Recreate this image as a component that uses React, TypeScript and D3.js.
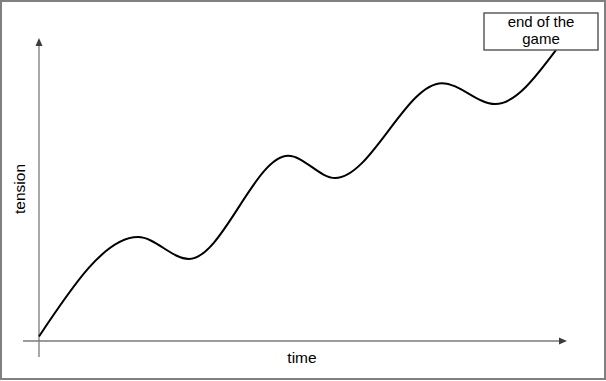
import React from "react";
import * as d3 from "d3";

const timeValues = [0, 18.75, 28.4, 47.2, 56.1, 76.3, 86.4, 97.9];
const tensionValues = [1.5, 34.3, 27.1, 61.1, 53.8, 85.1, 78.2, 96.0];
const xLabel = "time";
const yLabel = "tension";
const noteLines = ["end of the", "game"];

const W = 606;
const H = 381;

export default function App() {
  const x = d3.scaleLinear().domain([0, 100]).range([39, 567]);
  const y = d3.scaleLinear().domain([0, 100]).range([341, 38]);
  const pts = timeValues.map((t, i) => [t, tensionValues[i]] as [number, number]);
  const line = d3
    .line<[number, number]>()
    .x((d) => x(d[0]))
    .y((d) => y(d[1]))
    .curve(d3.curveMonotoneX);

  const font = "Arial, 'Liberation Sans', Helvetica, sans-serif";
  const axisColor = "#7a7a7a";
  const arrowColor = "#3c3c3c";
  const x0 = x(0);
  const y0 = y(0);
  const xEnd = x(100);
  const yEnd = y(100);

  return (
    <svg
      width={W}
      height={H}
      style={{ position: "absolute", left: 0, top: 0, background: "#fff" }}
    >
      <rect x={1} y={1} width={604} height={378} fill="#fff" stroke="#808080" strokeWidth={2} />
      {/* axes */}
      <line x1={x0} x2={x0} y1={357} y2={yEnd + 6} stroke={axisColor} strokeWidth={1.3} />
      <path d={`M${x0},${yEnd} L${x0 - 3.5},${yEnd + 8} L${x0 + 3.5},${yEnd + 8} Z`} fill={arrowColor} />
      <line x1={23} x2={xEnd - 6} y1={y0} y2={y0} stroke={axisColor} strokeWidth={1.3} />
      <path d={`M${xEnd},${y0} L${xEnd - 8},${y0 - 3.5} L${xEnd - 8},${y0 + 3.5} Z`} fill={arrowColor} />
      {/* curve */}
      <path d={line(pts) || ""} fill="none" stroke="#000" strokeWidth={2} />
      {/* labels */}
      <text x={302} y={363} textAnchor="middle" fontFamily={font} fontSize={15.5} fill="#000">
        {xLabel}
      </text>
      <text
        transform={`translate(25,189) rotate(-90)`}
        textAnchor="middle"
        fontFamily={font}
        fontSize={15.5}
        fill="#000"
      >
        {yLabel}
      </text>
      {/* note box */}
      <rect x={484} y={13} width={114} height={37} fill="#fff" stroke="#444" strokeWidth={1.3} />
      {noteLines.map((s, i) => (
        <text key={i} x={541} y={27 + i * 17} textAnchor="middle" fontFamily={font} fontSize={15} fill="#000">
          {s}
        </text>
      ))}
    </svg>
  );
}
